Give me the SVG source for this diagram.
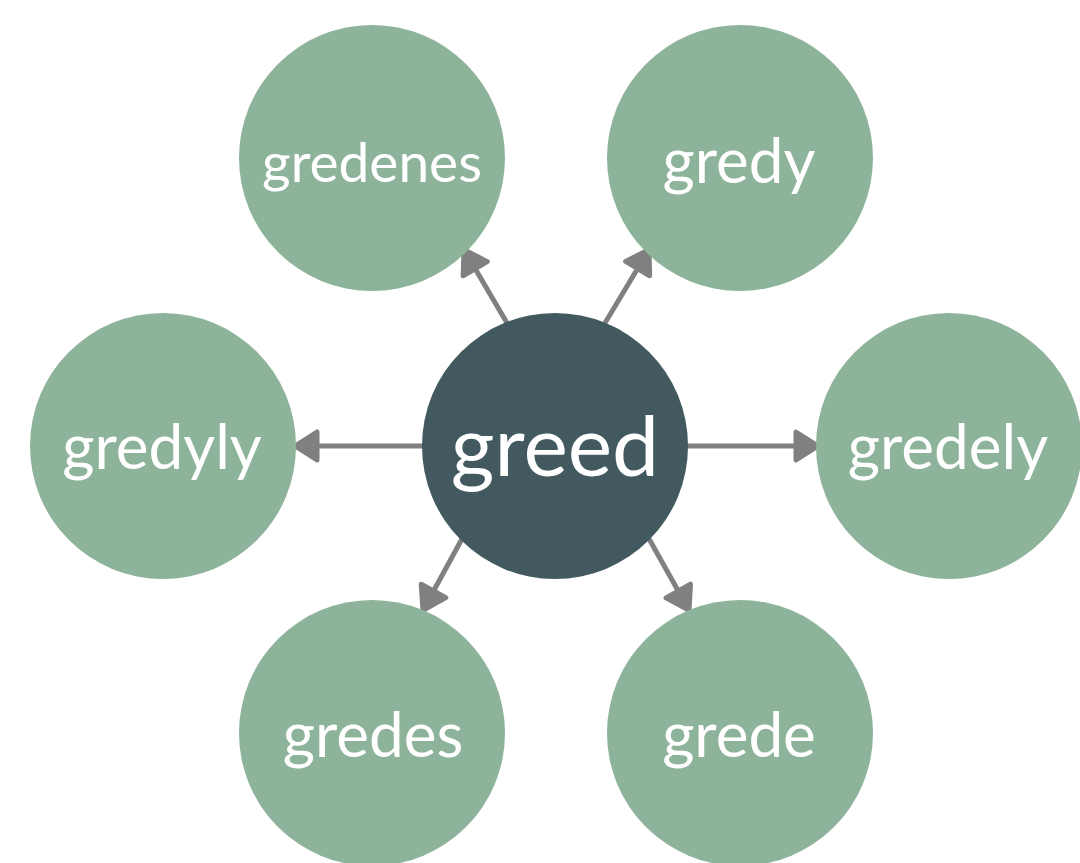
<svg xmlns="http://www.w3.org/2000/svg" width="1080" height="863" viewBox="0 0 1080 863">
<style>
.outer{fill:#8DB39A}
.center{fill:#41595F}
.t{font-family:Lato,"Noto Sans",sans-serif;fill:#FFFFFF;text-anchor:middle}
.ts{font-size:62px}
.tm{font-size:55px}
.tc{font-size:84px}
.con{stroke:#808080;stroke-width:5;fill:none}
</style>
<defs>
<marker id="ah" markerUnits="userSpaceOnUse" markerWidth="40" markerHeight="40" viewBox="-4 -20 34 40" refX="0" refY="0" orient="auto">
<path d="M2,-14 L24,0 L2,14 Z" fill="#808080" stroke="#808080" stroke-width="5" stroke-linejoin="round"/>
</marker>
</defs>
<rect width="1080" height="863" fill="#FFFFFF"/>
<g id="connectors">
<line class="con" x1="425" y1="446" x2="319" y2="446" marker-end="url(#ah)"/>
<line class="con" x1="687" y1="446" x2="794" y2="446" marker-end="url(#ah)"/>
<line class="con" x1="507" y1="323" x2="476.2" y2="270.4" marker-end="url(#ah)"/>
<line class="con" x1="605" y1="323" x2="636.6" y2="270.3" marker-end="url(#ah)"/>
<line class="con" x1="463" y1="537" x2="434.5" y2="589.2" marker-end="url(#ah)"/>
<line class="con" x1="648" y1="537" x2="677.3" y2="589.3" marker-end="url(#ah)"/>
</g>
<g id="node-greed">
<circle class="center" cx="555" cy="446" r="133"/>
<text class="t tc" x="555" y="476">greed</text>
</g>
<g id="node-gredenes">
<circle class="outer" cx="372" cy="158" r="133"/>
<text class="t tm" x="372" y="182">gredenes</text>
</g>
<g id="node-gredy">
<circle class="outer" cx="740" cy="158" r="133"/>
<text class="t ts" x="739" y="183">gredy</text>
</g>
<g id="node-gredyly">
<circle class="outer" cx="163" cy="446" r="133"/>
<text class="t ts" x="162" y="469">gredyly</text>
</g>
<g id="node-gredely">
<circle class="outer" cx="949" cy="446" r="133"/>
<text class="t ts" x="948" y="469">gredely</text>
</g>
<g id="node-gredes">
<circle class="outer" cx="372" cy="733" r="133"/>
<text class="t ts" x="373" y="757">gredes</text>
</g>
<g id="node-grede">
<circle class="outer" cx="740" cy="733" r="133"/>
<text class="t ts" x="739" y="757">grede</text>
</g>
</svg>
